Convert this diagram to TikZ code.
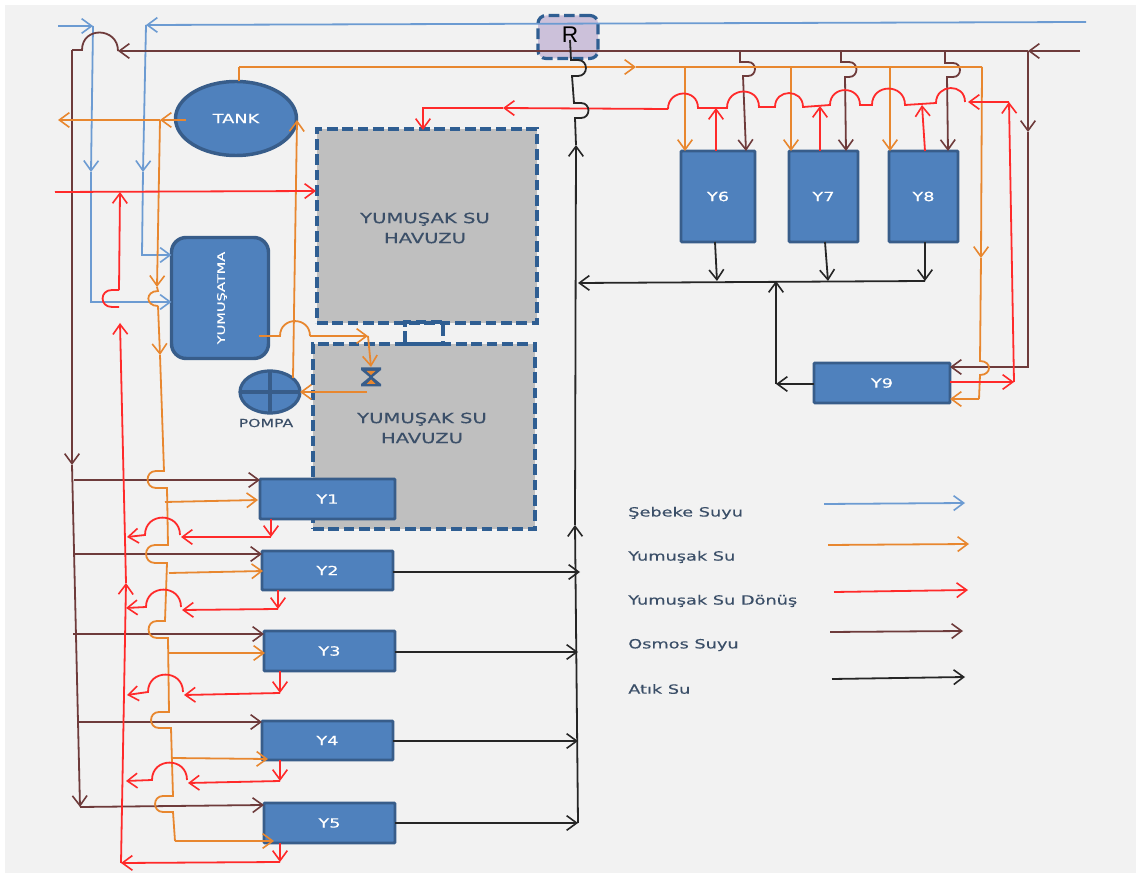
\documentclass[tikz,border=0pt]{standalone}
\usepackage{fontspec}
\setmainfont[FakeStretch=1.4,FakeBold=0.35]{DejaVu Sans}
\newfontfamily\rfont{Liberation Sans}
\usetikzlibrary{arrows.meta,shapes.geometric}
\definecolor{panel}{HTML}{F2F2F2}
\definecolor{boxblue}{HTML}{4F81BD}
\definecolor{boxedge}{HTML}{385D8A}
\definecolor{dashblue}{HTML}{2F5E92}
\definecolor{poolgray}{HTML}{BFBFBF}
\definecolor{rlilac}{HTML}{CCC1DA}
\definecolor{netblue}{HTML}{6C9BD2}
\definecolor{softorange}{HTML}{E8872F}
\definecolor{backred}{HTML}{FF2A2A}
\definecolor{osmos}{HTML}{6E3B3B}
\definecolor{waste}{HTML}{262626}
\definecolor{labeltext}{HTML}{3B4F68}
\tikzset{
  wh/.style 2 args={minimum width=#1*0.75pt,minimum height=#2*0.75pt,inner sep=0pt,outer sep=0pt},
  ybox/.style={draw=boxedge,fill=boxblue,line width=2.2pt,rounded corners=0.8pt,text=white,font=\fontsize{9.5}{11}\selectfont},
  pool/.style={draw=dashblue,fill=poolgray,line width=2.4pt,dash pattern=on 8pt off 3.5pt,text=labeltext,align=center,font=\fontsize{10.5}{15}\selectfont},
  caption/.style={text=labeltext,anchor=west,inner sep=0pt,font=\fontsize{9.5}{11}\selectfont},
  line/.style={line width=1.35pt,line join=miter,-,>={Straight Barb[length=7.5pt,width=11pt,line width=1.2pt]}},
  sb/.style={line,draw=netblue},
  so/.style={line,draw=softorange},
  sr/.style={line,draw=backred},
  sn/.style={line,draw=osmos},
  sk/.style={line,draw=waste},
  hopN/.style={out=90,in=90,looseness=1.7},
  hopE/.style={out=0,in=0,looseness=1.7},
  hopW/.style={out=180,in=180,looseness=1.7},
}
\begin{document}
\begin{tikzpicture}[x=0.75pt,y=-0.75pt]
\useasboundingbox (0,0) rectangle (1136,873);
\fill[white] (0,0) rectangle (1136,873);
\fill[panel] (5,5) rectangle (1136,873);

% shapes
\node[pool,wh={220}{194}] (pool1) at (427,226) {};
\node[text=labeltext,align=center,font=\fontsize{10.5}{15}\selectfont,inner sep=0pt] (pool1txt) at (425,228) {YUMUŞAK SU\\HAVUZU};
\node[pool,wh={222}{185}] (pool2) at (424,436.5) {};
\node[text=labeltext,align=center,font=\fontsize{10.5}{15}\selectfont,inner sep=0pt] (pool2txt) at (422,428) {YUMUŞAK SU\\HAVUZU};
\node[draw=dashblue,line width=2.4pt,dash pattern=on 8pt off 3.5pt,wh={38}{22}] (link) at (424,333) {};
\node[draw=dashblue,fill=rlilac,line width=2.4pt,dash pattern=on 8pt off 3.5pt,rounded corners=6pt,wh={60}{43}] (R) at (568,37) {};
\node[inner sep=0pt,font=\rfont\fontsize{17}{19}\selectfont] (Rtxt) at (570,35) {R};
\node[ellipse,draw=boxedge,fill=boxblue,line width=2.6pt,wh={121}{74},text=white,font=\fontsize{9.5}{11}\selectfont] (tank) at (236,118.5) {TANK};
\node[draw=boxedge,fill=boxblue,line width=2.6pt,rounded corners=11pt,wh={97}{121}] (yum) at (220,298) {};
\node[rotate=90,text=white,inner sep=0pt,font=\fontsize{7.8}{9}\selectfont] (yumtxt) at (222,298) {YUMUŞATMA};
\node[ellipse,draw=boxedge,fill=boxblue,line width=2.4pt,wh={60}{42}] (pump) at (270,392) {};
\draw[boxedge,line width=2.4pt] (pump.west) -- (pump.east) (pump.north) -- (pump.south);
\node[text=labeltext,inner sep=0pt,font=\fontsize{8.4}{10}\selectfont] (pumptxt) at (266,423) {POMPA};
\node[ybox,wh={74}{91}] (y6) at (718,196.5) {Y6};
\node[ybox,wh={69}{91}] (y7) at (823.5,196.5) {Y7};
\node[ybox,wh={69}{91}] (y8) at (923.5,196.5) {Y8};
\node[ybox,wh={136}{40}] (y9) at (882,383) {Y9};
\node[ybox,wh={135}{40}] (y1) at (327.5,499) {Y1};
\node[ybox,wh={131}{39}] (y2) at (327.5,570.5) {Y2};
\node[ybox,wh={131}{40}] (y3) at (329.5,651) {Y3};
\node[ybox,wh={131}{39}] (y4) at (327.5,740.5) {Y4};
\node[ybox,wh={131}{40}] (y5) at (329.5,823) {Y5};

% valve
\coordinate (valve) at (371,377);
\fill[boxedge] (361,367.5) -- (381,367.5) -- (381,370) -- (372.5,377) -- (381,384) -- (381,386.5) -- (361,386.5) -- (361,384) -- (369.5,377) -- (361,370) -- cycle;
\fill[softorange] (366.5,371) -- (375.5,371) -- (371,375) -- cycle (366.5,384) -- (375.5,384) -- (371,379.5) -- cycle;

% legend
\node[caption] (l1) at (628,513) {Şebeke Suyu};
\node[caption] (l2) at (628,557) {Yumuşak Su};
\node[caption] (l3) at (628,601) {Yumuşak Su Dönüş};
\node[caption] (l4) at (628,645) {Osmos Suyu};
\node[caption] (l5) at (628,689) {Atık Su};

% named points
\foreach \n/\x/\y in {
 s0/1086/22, s1/146/25, s2/143/172, s3/142/255,
 t0/58/26, t1/93/26, t2/91/172, t3/91/302,
 b0/1080/51, b1/1028/51, b2/118/51, b3/82/50, b4/72/50, b5/72/465, b6/80/807,
 b7/1028/132, b8/1028/367,
 j1/74/480, j2/74/554, j3/73/634, j4/78/722,
 e5/264/805,
 d1a/740/51, d1b/740/62, d1h/748/62, d1i/748/76, d1c/743/76, d1d/746/150,
 d2a/841/51, d2b/841/62, d2h/849/62, d2i/849/77, d2c/845/77, d2d/846/150,
 d3a/945/51, d3b/945/63, d3h/953/63, d3i/953/77, d3c/947/77, d3d/948/150,
 oT/239/67, o1/636/67, o2/982/67, o3/981/258, o4/980/361, o5/980/375, o6/979/399,
 o61/685/67, o71/791/67, o81/890/67,
 oL0/186/120, oL1/160/120, oL2/58/120,
 v1/157/287, v2/158/291, v3/158/306, v4/160/355,
 h1a/164/471, h1b/156/471, h1c/156/488, h1d/167/488,
 h2a/168/545, h2b/155/545, h2c/155/563, h2d/167/563,
 h3a/165/621, h3b/157/621, h3c/157/638, h3d/168/638,
 h4a/169/712, h4b/159/712, h4c/159/728, h4d/171/728,
 h5a/173/796, h5b/163/796, h5c/163/812, h5d/173/812, h5e/175/841,
 f1/165/502, f2/169/573, f3/168/653, f4/172/758,
 e1/258/500, e2/263/571, e3/265/653, e4/268/759, e5o/274/841,
 u0/259/336, u1/280/336, u2/310/336, u3/368/336, u4/371/367, u5/367/392,
 p0/293/378, p1/297/120,
 r0/1014/382, r1/1009/102, r2/968/102, r3/965/102, r4/936/103, r5/905/105, r6/872/105, r7/860/105, r8/830/105,
 r9/803/107, r10/775/107, r11/759/107, r12/727/108, r13/698/108, r14/668/109, r15/503/108, r16/423/108, r17/423/130,
 up6/716/108, up7/820/106, up8/922/105, up9/925/150,
 q0/55/192, q1/316/191,
 w0/120/192, w1/119/290, w2/112/290, w3/112/307, w4/119/307, w5/120/323, w6/126/583, w7/121/863,
 a1/271/537, a2/181/537, a3/180/535, a4/145/535, a5/127/537,
 c1/278/609, c2/182/610, c3/181/607, c4/146/607, c5/126/608,
 g1/280/693, g2/184/695, g3/183/692, g4/148/692, g5/127/695,
 i1/280/781, i2/188/783, i3/187/780, i4/152/780, i5/126/781,
 k1/280/862,
 m0/570/40, m1/571/60, m1h/578/60, m2h/578/76, m2/572/76, m3/574/103, m3h/581/103, m4h/581/118, m4/575/118, m5/576/145, m6/575/525, m7/576/283, m8/578/823,
 x2/580/572, x3/578/652, x4/578/741,
 w6a/715/242, w6b/717/281, w7a/825/242, w7b/828/281, w8a/925/242, w8b/925/281, w9/578/283,
 z0/776/384, z1/776/281,
 L1a/824/504, L1b/965/503, L2a/828/545, L2b/969/544, L3a/834/592, L3b/968/590, L4a/830/632, L4b/963/631, L5a/832/679, L5b/965/677}
 {\coordinate (\n) at (\x,\y);}

% Sebeke (blue)
\draw[sb,->] (s0) -- (s1);
\draw[sb,->] (s1) -- (s2);
\draw[sb,->] (s2) -- (s3) -- (s3 -| yum.west);
\draw[sb,->] (t0) -- (t1);
\draw[sb,->] (t1) -- (t2);
\draw[sb,->] (t2) -- (t3) -- (t3 -| yum.west);

% Osmos (brown)
\draw[sn,->] (b0) -- (b1);
\draw[sn,->] (b1) -- (b2);
\draw[sn] (b2) to[hopN] (b3) -- (b4);
\draw[sn,->] (b4) -- (b5);
\draw[sn,->] (b5) -- (b6);
\draw[sn,->] (b1) -- (b7);
\draw[sn,->] (b7) -- (b8) -- (b8 -| y9.east);
\draw[sn,->] (j1) -- (j1 -| y1.west);
\draw[sn,->] (j2) -- (j2 -| y2.west);
\draw[sn,->] (j3) -- (j3 -| y3.west);
\draw[sn,->] (j4) -- (j4 -| y4.west);
\draw[sn,->] (b6) -- (e5);
\draw[sn,->] (d1a) -- (d1b) -- (d1h) to[hopE] (d1i) -- (d1c) -- (d1d |- y6.north);
\draw[sn,->] (d2a) -- (d2b) -- (d2h) to[hopE] (d2i) -- (d2c) -- (d2d |- y7.north);
\draw[sn,->] (d3a) -- (d3b) -- (d3h) to[hopE] (d3i) -- (d3c) -- (d3d |- y8.north);

% Yumusak (orange)
\draw[so] (oT |- tank.north) -- (oT);
\draw[so,->] (oT) -- (o1);
\draw[so] (o1) -- (o2);
\draw[so,->] (o2) -- (o3);
\draw[so] (o3) -- (o4) to[out=0,in=0,looseness=2.2] (o5) -- (o6);
\draw[so,->] (o6) -- (o6 -| y9.east);
\draw[so,->] (o61) -- (o61 |- y6.north);
\draw[so,->] (o71) -- (o71 |- y7.north);
\draw[so,->] (o81) -- (o81 |- y8.north);
\draw[so,->] (oL0) -- (oL1);
\draw[so,->] (oL1) -- (oL2);
\draw[so,->] (oL1) -- (v1);
\draw[so] (v1) -- (v2) to[out=180,in=180,looseness=2.2] (v3);
\draw[so,->] (v3) -- (v4);
\draw[so] (v4) -- (h1a) -- (h1b) to[hopW] (h1c) -- (h1d) -- (h2a) -- (h2b) to[hopW] (h2c) -- (h2d) -- (h3a) -- (h3b) to[hopW] (h3c) -- (h3d) -- (h4a) -- (h4b) to[hopW] (h4c) -- (h4d) -- (h5a) -- (h5b) to[hopW] (h5c) -- (h5d) -- (h5e);
\draw[so,->] (h5e) -- (e5o);
\draw[so,->] (f1) -- (e1);
\draw[so,->] (f2) -- (e2);
\draw[so,->] (f3) -- (e3);
\draw[so,->] (f4) -- (e4);
\draw[so] (u0) -- (u1) to[hopN] (u2);
\draw[so,->] (u2) -- (u3);
\draw[so,->] (u3) -- (u4);
\draw[so,->] (u5) -- (pump.east);
\draw[so,->] (p0) -- (p1);

% Donus (red)
\draw[sr,->] (y9.east |- r0) -- (r0);
\draw[sr,->] (r0) -- (r1);
\draw[sr,->] (r1) -- (r2);
\draw[sr] (r3) to[hopN] (r4) -- (r5) to[hopN] (r6) -- (r7) to[hopN] (r8) -- (r9) to[hopN] (r10) -- (r11) to[hopN] (r12) -- (r13) to[hopN] (r14);
\draw[sr,->] (r14) -- (r15);
\draw[sr,->] (r15) -- (r16) -- (r17);
\draw[sr,->] (up6 |- y6.north) -- (up6);
\draw[sr,->] (up7 |- y7.north) -- (up7);
\draw[sr,->] (up9 |- y8.north) -- (up8);
\draw[sr,->] (q0) -- (q1);
\draw[sr,->] (w1) -- (w0);
\draw[sr] (w1) -- (w2) to[out=180,in=180,looseness=1.9] (w3) -- (w4);
\draw[sr,->] (w6) -- (w5);
\draw[sr,->] (w7) -- (w6);
\draw[sr,->] (a1 |- y1.south) -- (a1);
\draw[sr,->] (a1) -- (a2);
\draw[sr,->] (a3) to[hopN] (a4) -- (a5);
\draw[sr,->] (c1 |- y2.south) -- (c1);
\draw[sr,->] (c1) -- (c2);
\draw[sr,->] (c3) to[hopN] (c4) -- (c5);
\draw[sr,->] (g1 |- y3.south) -- (g1);
\draw[sr,->] (g1) -- (g2);
\draw[sr,->] (g3) to[hopN] (g4) -- (g5);
\draw[sr,->] (i1 |- y4.south) -- (i1);
\draw[sr,->] (i1) -- (i2);
\draw[sr,->] (i3) to[hopN] (i4) -- (i5);
\draw[sr,->] (k1 |- y5.south) -- (k1);
\draw[sr,->] (k1) -- (w7);

% Atik (black)
\draw[sk] (m0) -- (m1) -- (m1h) to[hopE] (m2h) -- (m2) -- (m3) -- (m3h) to[hopE] (m4h) -- (m4) -- (m5);
\draw[sk,->] (m6) -- (m5);
\draw[sk,->] (m8) -- (m6);
\draw[sk,->] (w6a) -- (w6b);
\draw[sk,->] (w7a) -- (w7b);
\draw[sk,->] (w8a) -- (w8b);
\draw[sk,->] (w8b) -- (w9);
\draw[sk,->] (y9.west |- z0) -- (z0);
\draw[sk,->] (z0) -- (z1);
\draw[sk,->] (y2.east |- x2) -- (x2);
\draw[sk,->] (y3.east |- x3) -- (x3);
\draw[sk,->] (y4.east |- x4) -- (x4);
\draw[sk,->] (y5.east |- m8) -- (m8);

% legend samples
\draw[sb,->] (L1a) -- (L1b);
\draw[so,->] (L2a) -- (L2b);
\draw[sr,->] (L3a) -- (L3b);
\draw[sn,->] (L4a) -- (L4b);
\draw[sk,->] (L5a) -- (L5b);
\end{tikzpicture}
\end{document}
